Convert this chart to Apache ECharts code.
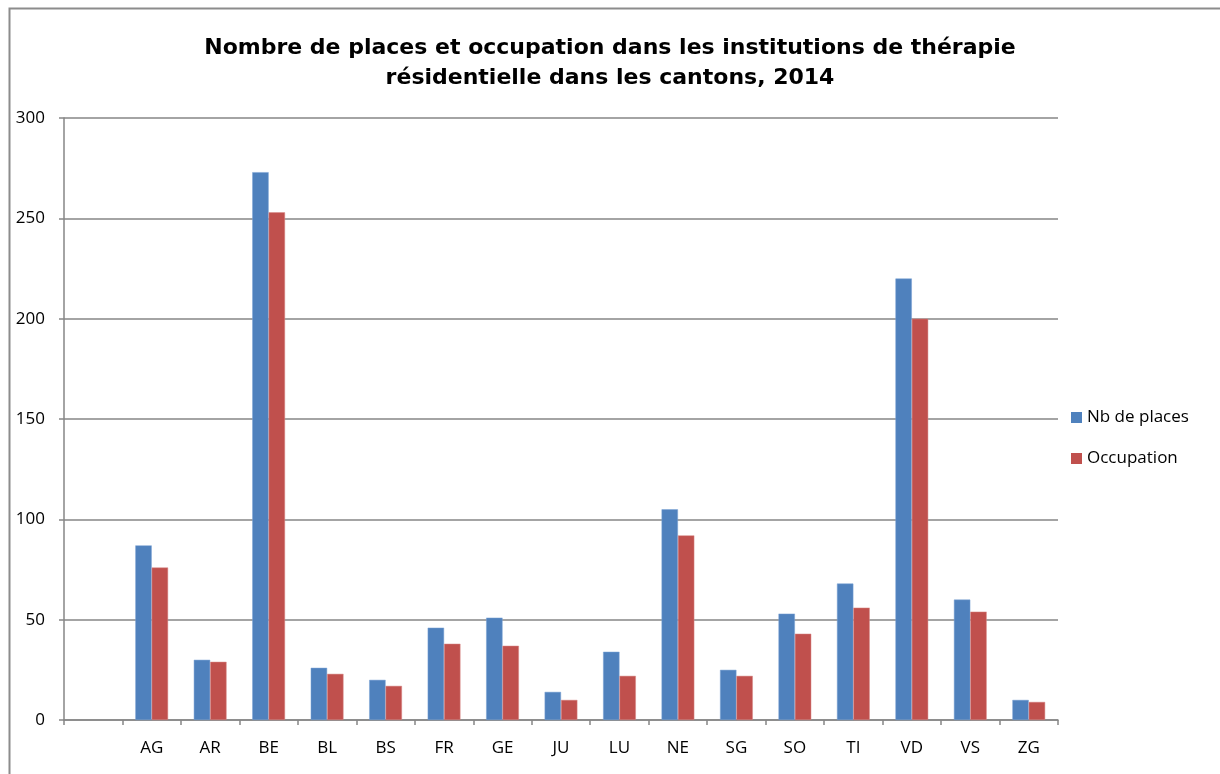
<!DOCTYPE html>
<html>
<head>
<meta charset="utf-8">
<script src="https://cdn.jsdelivr.net/npm/echarts@6/dist/echarts.min.js"></script>
<style>html,body{margin:0;padding:0;background:#fff;}#c{width:1220px;height:774px;}</style>
</head>
<body>
<div id="c"></div>
<script>
const titleText = "Nombre de places et occupation dans les institutions de thérapie\nrésidentielle dans les cantons, 2014";
const categories = ["", "AG", "AR", "BE", "BL", "BS", "FR", "GE", "JU", "LU", "NE", "SG", "SO", "TI", "VD", "VS", "ZG"];
const seriesNames = ["Nb de places", "Occupation"];
const places = [null, 87, 30, 273, 26, 20, 46, 51, 14, 34, 105, 25, 53, 68, 220, 60, 10];
const occupation = [null, 76, 29, 253, 23, 17, 38, 37, 10, 22, 92, 22, 43, 56, 200, 54, 9];
const yTicks = [0, 50, 100, 150, 200, 250, 300];

const chart = echarts.init(document.getElementById('c'), null, {renderer: 'canvas'});
const font = "'Open Sans', 'Liberation Sans', sans-serif";
chart.setOption({
  backgroundColor: '#ffffff',
  animation: false,
  graphic: [{
    type: 'rect', left: 7, top: 6, shape: {width: 1240, height: 800},
    style: {fill: 'none', stroke: '#8c8c8c', lineWidth: 2}, silent: true
  }],
  title: {
    text: titleText, left: 'center', top: 28, itemGap: 0,
    textStyle: {fontFamily: "'DejaVu Sans', sans-serif", fontWeight: 'bold', fontSize: 22, lineHeight: 30, color: '#000'}
  },
  legend: {
    orient: 'vertical', left: 1066, top: 404, itemWidth: 11, itemHeight: 11, itemGap: 24,
    icon: 'rect',
    itemStyle: {borderWidth: 0},
    textStyle: {fontFamily: font, fontSize: 17, color: '#000'},
    data: seriesNames
  },
  grid: {left: 64, right: 162, top: 118, bottom: 54, containLabel: false},
  xAxis: {
    type: 'category', data: categories,
    axisLine: {lineStyle: {color: '#868686', width: 1.5}},
    axisTick: {show: true, length: 5, alignWithLabel: false, lineStyle: {color: '#868686', width: 1.5}},
    axisLabel: {fontFamily: font, fontSize: 17, color: '#000', margin: 20, interval: 0}
  },
  yAxis: {
    type: 'value', min: 0, max: 300, interval: 50,
    axisLine: {show: true, lineStyle: {color: '#868686', width: 1.5}},
    axisTick: {show: true, length: 5, lineStyle: {color: '#868686', width: 1.5}},
    axisLabel: {fontFamily: font, fontSize: 17, color: '#000', margin: 19},
    splitLine: {lineStyle: {color: '#868686', width: 1.5}}
  },
  series: [
    {name: seriesNames[0], type: 'bar', data: places, barGap: '0%', barCategoryGap: '44%',
     itemStyle: {color: '#4f81bd', borderColor: '#7aa2d4', borderWidth: 0.5}},
    {name: seriesNames[1], type: 'bar', data: occupation, barGap: '0%', barCategoryGap: '44%',
     itemStyle: {color: '#c0504d', borderColor: '#d88a88', borderWidth: 0.5}}
  ]
});
</script>
</body>
</html>
